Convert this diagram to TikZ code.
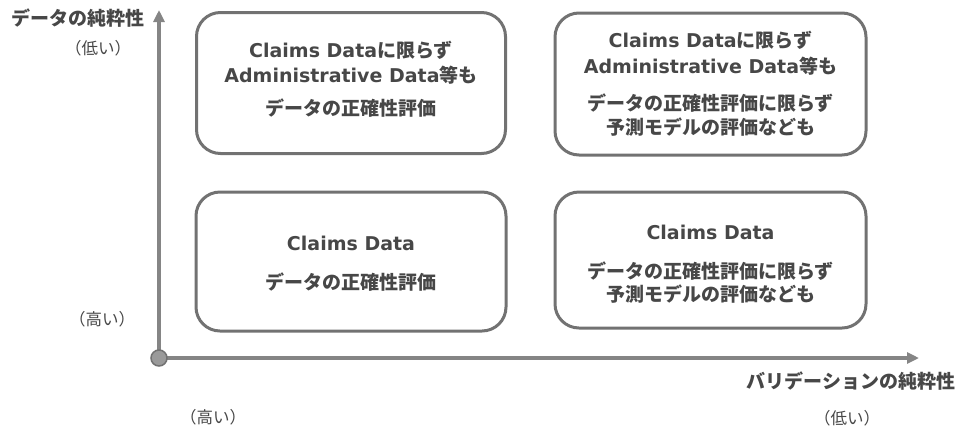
\documentclass[tikz,border=0pt]{standalone}
\usepackage{fontspec}
\setmainfont{DejaVu Sans}
\newfontfamily\jp{Noto Sans CJK JP}
\usetikzlibrary{arrows.meta}
\definecolor{txtgray}{HTML}{474747}
\definecolor{boxgray}{HTML}{727272}
\definecolor{axisgray}{HTML}{858585}
\definecolor{dotfill}{HTML}{9A9A9A}
\tikzset{
  quad/.style={draw=boxgray, line width=3pt, rounded corners=24pt, inner sep=0pt},
  lbl/.style={text=txtgray, font=\fontsize{19}{19}\selectfont\bfseries, inner sep=0pt, anchor=center},
  axlbl/.style={text=txtgray, font=\jp\fontsize{19}{19}\selectfont\bfseries, inner sep=0pt, anchor=center},
  paren/.style={text=txtgray, font=\jp\fontsize{16.5}{16.5}\selectfont, inner sep=0pt, anchor=center},
  axis/.style={draw=axisgray, line width=4pt, -{Triangle[length=12pt,width=11pt]}},
  dot/.style={circle, draw=boxgray, fill=dotfill, line width=1.5pt, minimum size=16pt, inner sep=0pt},
}
\begin{document}
\begin{tikzpicture}[x=1pt,y=-1pt]
\useasboundingbox (0,0) rectangle (958,432);
% boxes
\node[quad, minimum width=309pt, minimum height=141pt] (tl) at (351,83) {};
\node[quad, minimum width=311pt, minimum height=142pt] (tr) at (710.5,84) {};
\node[quad, minimum width=310pt, minimum height=139pt] (bl) at (351,261.5) {};
\node[quad, minimum width=311pt, minimum height=136pt] (br) at (710.5,260) {};
% top-left text
\node[lbl] (tl1) at (351,50) {Claims Data{\jp に限らず}};
\node[lbl] (tl2) at (351,75) {Administrative Data{\jp 等も}};
\node[lbl] (tl3) at (351,108) {\jp データの正確性評価};
% top-right text
\node[lbl] (tr1) at (710.5,40) {Claims Data{\jp に限らず}};
\node[lbl] (tr2) at (710.5,66) {Administrative Data{\jp 等も}};
\node[lbl] (tr3) at (710.5,103) {\jp データの正確性評価に限らず};
\node[lbl] (tr4) at (710.5,127) {\jp 予測モデルの評価なども};
% bottom-left text
\node[lbl] (bl1) at (351,243) {Claims Data};
\node[lbl] (bl2) at (351,282) {\jp データの正確性評価};
% bottom-right text
\node[lbl] (br1) at (710.5,232) {Claims Data};
\node[lbl] (br2) at (710.5,271) {\jp データの正確性評価に限らず};
\node[lbl] (br3) at (710.5,294) {\jp 予測モデルの評価なども};
% axes
\coordinate (O) at (159,358);
\coordinate (ytop) at (159,10);
\coordinate (xend) at (919,358);
\draw[axis] (O) -- (ytop);
\draw[axis] (O) -- (xend);
\node[dot] (origin) at (O) {};
% axis labels
\node[axlbl] (ylab) at (78,18) {データの純粋性};
\node[paren] (ylow) at (98,48) {（低い）};
\node[paren] (yhigh) at (102,319) {（高い）};
\node[axlbl] (xlab) at (851,381) {バリデーションの純粋性};
\node[paren] (xhigh) at (213,417) {（高い）};
\node[paren] (xlow) at (847,418) {（低い）};
\end{tikzpicture}
\end{document}
